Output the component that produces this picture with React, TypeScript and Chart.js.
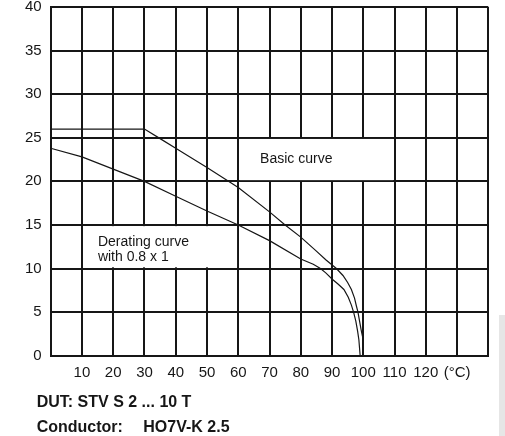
import React, { useEffect, useRef } from 'react';
import { Chart, registerables } from 'chart.js';

Chart.register(...registerables);

// Temperature (°C) and current (A)
const basicTemps = [0, 30, 35, 40, 50, 60, 70, 75, 80, 85, 88, 91.4, 93.5, 95, 96.2, 97.2, 97.8, 98.3, 98.8, 99.3, 99.7, 100];
const basicValues = [26, 26, 24.9, 23.8, 21.6, 19.3, 16.5, 15, 13.6, 12.0, 11.0, 10, 9.2, 8.4, 7.6, 6.6, 5.7, 5, 4, 3, 2.3, 1.8];

const deratingTemps = [0, 10, 20, 30, 40, 50, 60, 70, 80, 84, 86.3, 88, 90, 92, 93.8, 95.2, 96.2, 96.9, 97.6, 98.2, 98.6, 99];
const deratingValues = [23.8, 22.8, 21.4, 20, 18.3, 16.6, 15, 13.2, 11.1, 10.5, 10, 9.5, 8.8, 8.2, 7.6, 6.7, 5.8, 5, 4, 2.8, 1.8, 0];

const xMin = 0;
const xMax = 140;
const xStep = 10;
const yMin = 0;
const yMax = 40;
const yStep = 5;
const unitTick = 130;
const unitLabel = '(°C)';

const basicLabel = ['Basic curve'];
const basicLabelPos = { x: 67, y: 22.5 };
const basicBox = { x0: 60, x1: 110, y0: 20, y1: 25 };

const deratingLabel = ['Derating curve', 'with 0.8 x 1'];
const deratingLabelPos = { x: 15.1, y: 13.0 };
const deratingBox = { x0: 10, x1: 60, y0: 10, y1: 15 };

const footLine1 = 'DUT: STV S 2 ... 10 T';
const footLabel2 = 'Conductor:';
const footValue2 = 'HO7V-K 2.5';

const FONT = '"Liberation Sans", Arial, Helvetica, sans-serif';
const INK = '#161616';

const boxesPlugin = {
  id: 'boxes',
  beforeDatasetsDraw(chart: any) {
    const { ctx, scales } = chart;
    const xs = scales.x;
    const ys = scales.y;
    const drawBox = (b: any, lines: string[], pos: any) => {
      const left = xs.getPixelForValue(b.x0) + 1.2;
      const right = xs.getPixelForValue(b.x1) - 1.2;
      const top = ys.getPixelForValue(b.y1) + 1.2;
      const bottom = ys.getPixelForValue(b.y0) - 1.2;
      ctx.save();
      ctx.fillStyle = '#ffffff';
      ctx.fillRect(left, top, right - left, bottom - top);
      ctx.fillStyle = INK;
      ctx.font = `14px ${FONT}`;
      ctx.textBaseline = 'middle';
      ctx.textAlign = 'left';
      const px = xs.getPixelForValue(pos.x);
      const py = ys.getPixelForValue(pos.y);
      lines.forEach((t, i) => ctx.fillText(t, px, py + i * 15));
      ctx.restore();
    };
    drawBox(basicBox, basicLabel, basicLabelPos);
    drawBox(deratingBox, deratingLabel, deratingLabelPos);
  },
};

function ChartView() {
  const ref = useRef<HTMLCanvasElement | null>(null);
  useEffect(() => {
    if (!ref.current) return;
    const chart = new Chart(ref.current, {
      type: 'line',
      data: {
        datasets: [
          {
            label: 'Basic curve',
            data: basicTemps.map((t, i) => ({ x: t, y: basicValues[i] })),
            borderColor: INK,
            borderWidth: 1.2,
            pointRadius: 0,
            fill: false,
            tension: 0,
          },
          {
            label: 'Derating curve',
            data: deratingTemps.map((t, i) => ({ x: t, y: deratingValues[i] })),
            borderColor: INK,
            borderWidth: 1.2,
            pointRadius: 0,
            fill: false,
            tension: 0,
          },
        ],
      },
      options: {
        animation: false,
        responsive: false,
        maintainAspectRatio: false,
        layout: { padding: { top: 7, right: 16.7, left: 0, bottom: 0 } },
        plugins: { legend: { display: false }, tooltip: { enabled: false } },
        scales: {
          x: {
            type: 'linear',
            min: xMin,
            max: xMax,
            afterFit: (s: any) => {
              s.height = 80.3;
              s.paddingLeft = 0;
              s.paddingRight = 0;
            },
            ticks: {
              stepSize: xStep,
              maxRotation: 0,
              autoSkip: false,
              padding: 8,
              color: INK,
              font: { family: FONT, size: 15 },
              callback: (v: any) => {
                if (v === xMin || v === xMax) return '';
                if (v === unitTick) return unitLabel;
                return String(v);
              },
            },
            grid: { color: INK, lineWidth: 2, drawTicks: false },
            border: { display: true, color: INK, width: 2 },
          },
          y: {
            type: 'linear',
            min: yMin,
            max: yMax,
            afterFit: (s: any) => {
              s.width = 50.7;
              s.paddingTop = 0;
              s.paddingBottom = 0;
            },
            ticks: {
              stepSize: yStep,
              padding: 9,
              color: INK,
              font: { family: FONT, size: 15 },
            },
            grid: { color: INK, lineWidth: 2, drawTicks: false },
            border: { display: true, color: INK, width: 2 },
          },
        },
      },
      plugins: [boxesPlugin],
    } as any);
    return () => chart.destroy();
  }, []);
  return <canvas ref={ref} width={505} height={436} style={{ display: 'block' }} />;
}

export default function App() {
  const foot: React.CSSProperties = {
    position: 'absolute',
    font: `bold 16px ${FONT}`,
    lineHeight: '16px',
    color: INK,
    whiteSpace: 'pre',
  };
  return (
    <div style={{ position: 'fixed', left: 0, top: 0, width: 505, height: 436, background: '#fff', overflow: 'hidden' }}>
      <ChartView />
      <div style={{ position: 'absolute', left: 499, top: 315, width: 6, height: 121, background: '#e6e6e6' }} />
      <div style={{ ...foot, left: 36.7, top: 394 }}>{footLine1}</div>
      <div style={{ ...foot, left: 36.7, top: 418.5 }}>{footLabel2}</div>
      <div style={{ ...foot, left: 143.3, top: 418.5 }}>{footValue2}</div>
    </div>
  );
}
